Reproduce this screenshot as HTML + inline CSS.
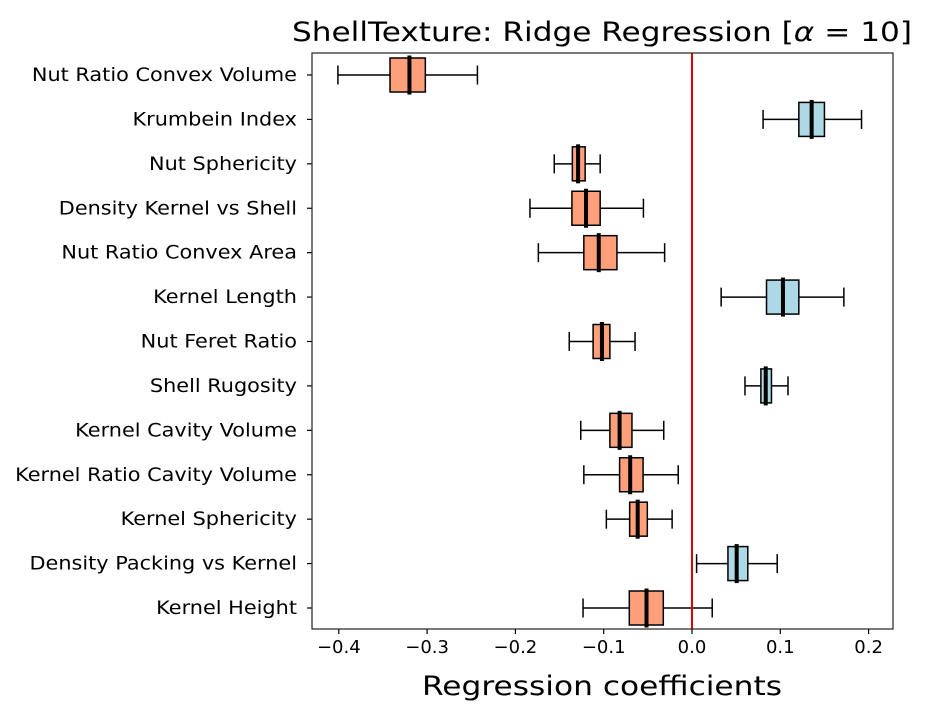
<!DOCTYPE html>
<html><head><meta charset="utf-8"><style>
body{margin:0;background:#fff;}
svg text{font-family:"DejaVu Sans","Liberation Sans",sans-serif;}
</style></head><body>
<svg id="chart" width="928" height="716" xmlns="http://www.w3.org/2000/svg">
<rect width="928" height="716" fill="#fff"/>
<text x="292" y="41" font-size="27" textLength="620" lengthAdjust="spacingAndGlyphs">ShellTexture: Ridge Regression [<tspan font-style="italic">α</tspan> = 10]</text>
<text x="422" y="695" font-size="27" textLength="360" lengthAdjust="spacingAndGlyphs">Regression coefficients</text>
<g id="marks"></g>
<g id="axes"></g>
</svg>
<script>
const features = ["Nut Ratio Convex Volume","Krumbein Index","Nut Sphericity","Density Kernel vs Shell","Nut Ratio Convex Area","Kernel Length","Nut Feret Ratio","Shell Rugosity","Kernel Cavity Volume","Kernel Ratio Cavity Volume","Kernel Sphericity","Density Packing vs Kernel","Kernel Height"];
const whiskerLow = [-0.401,0.0805,-0.156,-0.1835,-0.174,0.033,-0.139,0.060,-0.126,-0.1225,-0.097,0.0052,-0.1234];
const q1 = [-0.342,0.121,-0.1355,-0.136,-0.1225,0.0844,-0.112,0.078,-0.093,-0.082,-0.0706,0.0407,-0.071];
const medians = [-0.320,0.1355,-0.129,-0.120,-0.1056,0.103,-0.102,0.0835,-0.082,-0.070,-0.0615,0.0506,-0.0515];
const q3 = [-0.302,0.150,-0.121,-0.104,-0.085,0.121,-0.093,0.090,-0.068,-0.0554,-0.0506,0.0632,-0.0325];
const whiskerHigh = [-0.243,0.192,-0.104,-0.055,-0.031,0.172,-0.0645,0.1087,-0.032,-0.0156,-0.0225,0.0965,0.0229];
const xTicks = [-0.4,-0.3,-0.2,-0.1,0.0,0.1,0.2];
const xTickLabels = ["−0.4","−0.3","−0.2","−0.1","0.0","0.1","0.2"];

const L=312,R=893,T=53,B=629;
const xs = v => 692 + v*883;
const ys = i => 75 + i*(608-75)/(features.length-1);
const NS="http://www.w3.org/2000/svg";
const marks=document.getElementById('marks'), axes=document.getElementById('axes');
function mk(tag,attrs,parent){const e=document.createElementNS(NS,tag);for(const k in attrs)e.setAttribute(k,attrs[k]);parent.appendChild(e);return e;}

features.forEach((f,i)=>{
  const y=ys(i);
  const g=mk('g',{},marks);
  
  
  const pos=medians[i]>0;
  mk('line',{x1:xs(whiskerLow[i]),x2:xs(q1[i]),y1:y,y2:y,stroke:'#000','stroke-width':1.5},g);
  mk('line',{x1:xs(q3[i]),x2:xs(whiskerHigh[i]),y1:y,y2:y,stroke:'#000','stroke-width':1.5},g);
  mk('line',{x1:xs(whiskerLow[i]),x2:xs(whiskerLow[i]),y1:y-9.5,y2:y+9.5,stroke:'#000','stroke-width':1.5},g);
  mk('line',{x1:xs(whiskerHigh[i]),x2:xs(whiskerHigh[i]),y1:y-9.5,y2:y+9.5,stroke:'#000','stroke-width':1.5},g);
  mk('rect',{x:xs(q1[i]),y:y-17,width:xs(q3[i])-xs(q1[i]),height:34,fill:pos?'#add8e6':'#ffa07a',stroke:'#000','stroke-width':1.5},g);
  mk('line',{x1:xs(medians[i]),x2:xs(medians[i]),y1:y-19.5,y2:y+19.5,stroke:'#000','stroke-width':4},g);
  const t=mk('text',{x:297,y:y+6,'font-size':19,'text-anchor':'end'},axes);
  t.textContent=f;
  
  
  const w=t.getComputedTextLength();
  t.setAttribute('textLength',(w*1.156/19*18).toFixed(1));
  t.setAttribute('lengthAdjust','spacingAndGlyphs');
  mk('line',{x1:L-5,x2:L,y1:y,y2:y,stroke:'#000','stroke-width':1.2},axes);
});
const zl=mk('line',{x1:xs(0),x2:xs(0),y1:T,y2:B,stroke:'#e00000','stroke-width':2},marks);


const fr=mk('rect',{x:L,y:T,width:R-L,height:B-T,fill:'none',stroke:'#222','stroke-width':1.2},axes);


xTicks.forEach((v,j)=>{
  mk('line',{x1:xs(v),x2:xs(v),y1:B,y2:B+5,stroke:'#000','stroke-width':1.2},axes);
  const t=mk('text',{x:xs(v),y:B+24,'font-size':18,'text-anchor':'middle'},axes);
  t.textContent=xTickLabels[j];
  
  
});
</script>
</body></html>
